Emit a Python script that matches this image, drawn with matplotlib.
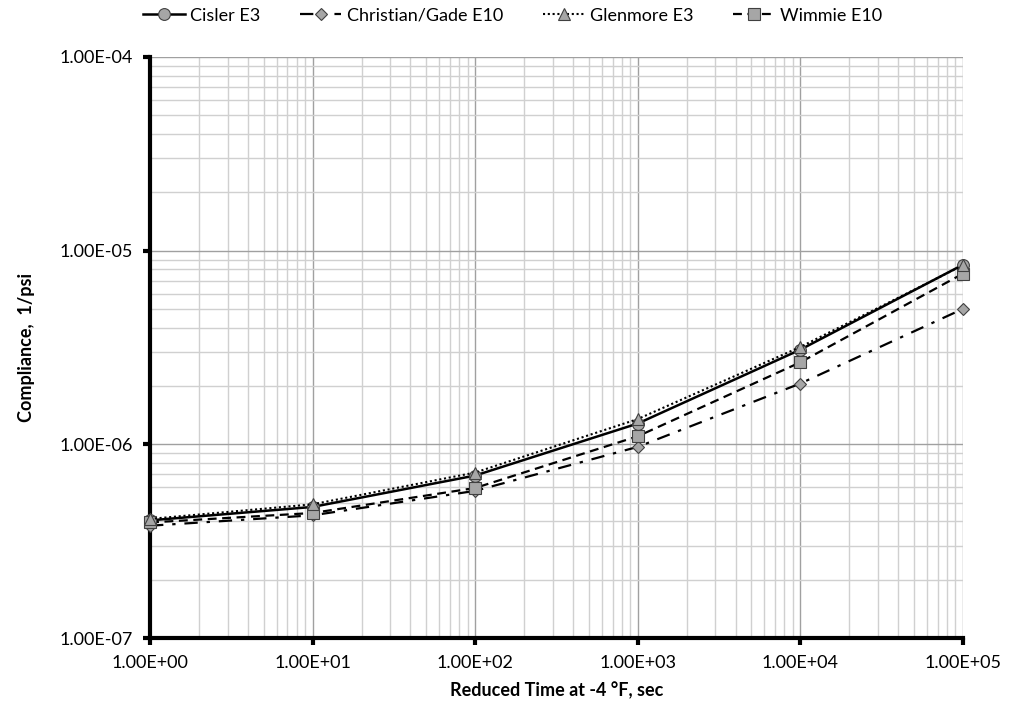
import numpy as np
import matplotlib.pyplot as plt
from matplotlib.ticker import FixedLocator, LogLocator, NullFormatter

plt.rcParams['font.family'] = ['Lato', 'DejaVu Sans']

# reduced time (sec) and compliance values (1/psi)
times = [1e0, 1e1, 1e2, 1e3, 1e4, 1e5]
cisler = [4.05e-7, 4.75e-7, 6.9e-7, 1.28e-6, 3.08e-6, 8.45e-6]
christian = [3.8e-7, 4.3e-7, 5.75e-7, 9.7e-7, 2.06e-6, 5.0e-6]
glenmore = [4.12e-7, 4.9e-7, 7.15e-7, 1.35e-6, 3.18e-6, 8.4e-6]
wimmie = [3.95e-7, 4.42e-7, 5.95e-7, 1.1e-6, 2.65e-6, 7.6e-6]

xticks = [1e0, 1e1, 1e2, 1e3, 1e4, 1e5]
yticks = [1e-7, 1e-6, 1e-5, 1e-4]

fig = plt.figure(figsize=(10.09, 7.25), dpi=100)
ax = fig.add_axes([0.1487, 0.12, 0.8055, 0.8014])

face = '#a6a6a6'
edge = '#404040'
common = dict(color='black', mfc=face, mec=edge, mew=0.8, clip_on=False)
ax.plot(times, cisler, lw=1.8, ls='-', marker='o', ms=8.5,
        label='Cisler E3', zorder=5, **common)
ax.plot(times, christian, lw=1.6, ls=(0, (6, 4, 1.5, 4)), marker='D', ms=6.5,
        label='Christian/Gade E10', zorder=4, **common)
ax.plot(times, glenmore, lw=1.5, ls=(0, (1, 1.3)), marker='^', ms=8.5,
        label='Glenmore E3', zorder=6, **common)
ax.plot(times, wimmie, lw=1.6, ls=(0, (4, 2.5)), marker='s', ms=8.5,
        label='Wimmie E10', zorder=5, **common)

ax.set_xscale('log')
ax.set_yscale('log')
ax.set_xlim(1e0, 1e5)
ax.set_ylim(1e-7, 1e-4)

ax.xaxis.set_major_locator(FixedLocator(xticks))
ax.yaxis.set_major_locator(FixedLocator(yticks))
ax.xaxis.set_minor_locator(LogLocator(base=10, subs=np.arange(2, 10)))
ax.yaxis.set_minor_locator(LogLocator(base=10, subs=np.arange(2, 10)))
ax.xaxis.set_minor_formatter(NullFormatter())
ax.yaxis.set_minor_formatter(NullFormatter())
ax.set_xticklabels(['%.2E' % v for v in xticks])
ax.set_yticklabels(['%.2E' % v for v in yticks])

ax.grid(which='major', color='#a0a0a0', lw=1.0)
ax.grid(which='minor', color='#d0d0d0', lw=1.0)
ax.set_axisbelow(True)

for s in ['top', 'right']:
    ax.spines[s].set_visible(False)
for s in ['left', 'bottom']:
    ax.spines[s].set_linewidth(3)
    ax.spines[s].set_zorder(3)
ax.tick_params(which='major', direction='out', length=5, width=3, labelsize=13, pad=7)
ax.tick_params(which='minor', length=0)

ax.set_xlabel('Reduced Time at -4 \u00b0F, sec', fontsize=13, fontweight='bold', labelpad=8)
ax.set_ylabel('Compliance,  1/psi', fontsize=13, fontweight='bold', labelpad=18)

fig.legend(loc='upper center', bbox_to_anchor=(0.508, 1.012), ncol=4, frameon=False,
           fontsize=13, handlelength=2.3, columnspacing=2.2, handletextpad=0.3)

fig.savefig('out.png', dpi=100)
